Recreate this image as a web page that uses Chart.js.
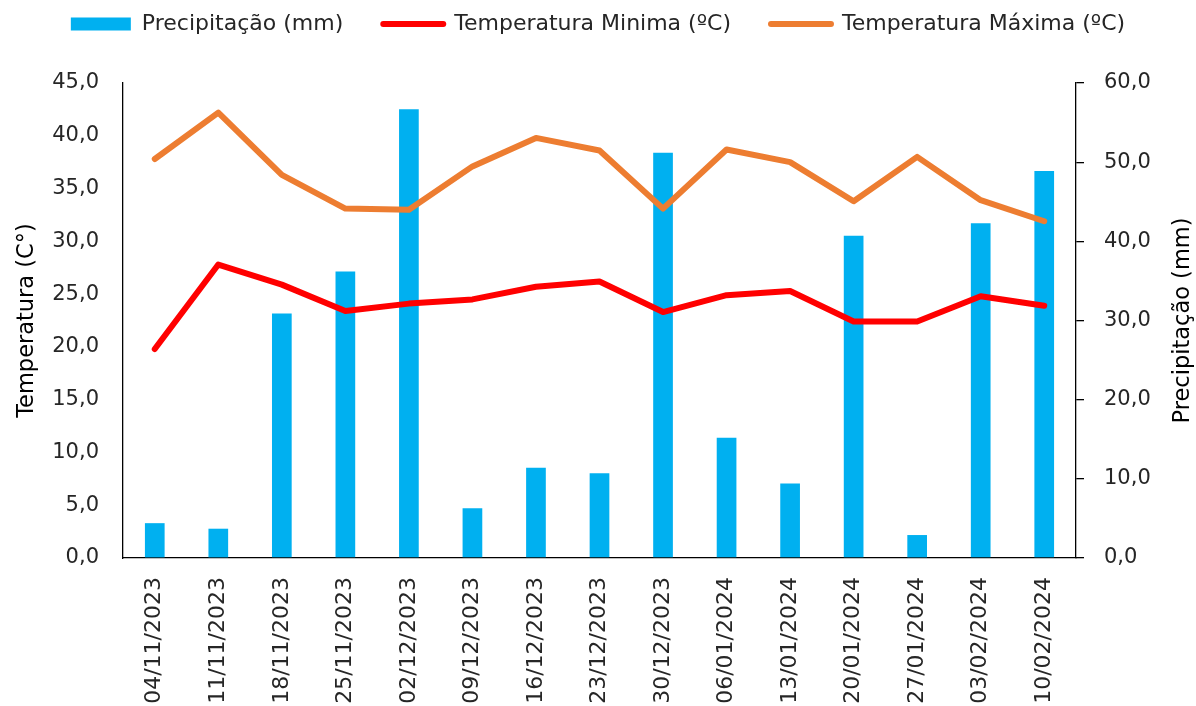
<!DOCTYPE html>
<html>
<head>
<meta charset="utf-8">
<script src="https://cdn.jsdelivr.net/npm/chart.js@4.4.1/dist/chart.umd.min.js"></script>
<style>
  body { margin: 0; background: #fff; }
  #wrap { width: 1196px; height: 706px; }
</style>
</head>
<body>
<div id="wrap"><canvas id="chart" width="1196" height="706"></canvas></div>
<script>
const dates = ['04/11/2023', '11/11/2023', '18/11/2023', '25/11/2023', '02/12/2023', '09/12/2023', '16/12/2023',
    '23/12/2023', '30/12/2023', '06/01/2024', '13/01/2024', '20/01/2024', '27/01/2024', '03/02/2024', '10/02/2024'];
const precipitacao = [4.4, 3.7, 30.9, 36.2, 56.7, 6.3, 11.4, 10.7, 51.2, 15.2, 9.4, 40.7, 2.9, 42.3, 48.9];
const tempMin = [19.8, 27.8, 25.9, 23.4, 24.1, 24.5, 25.7, 26.2, 23.3, 24.9, 25.3, 22.4, 22.4, 24.8, 23.9];
const tempMax = [37.8, 42.2, 36.3, 33.1, 33.0, 37.1, 39.8, 38.6, 33.1, 38.7, 37.5, 33.8, 38.0, 33.9, 31.9];
const tempTicks = [0, 45, 5];   // min, max, step
const precTicks = [0, 60, 10];
const rightTitle = 'Precipitação (mm)';

const FONT = "'DejaVu Sans', sans-serif";
const TXT = '#262626';
const fmt = v => v.toFixed(1).replace('.', ',');

// legend gets a fixed height so the plot starts where it does in the original
const legendFix = {
    id: 'legendFix',
    afterInit(chart) {
        const lg = chart.legend;
        const fit = lg.fit;
        lg.fit = function() {
            fit.call(this);
            this.height = 83;
        };
    },
    afterLayout(chart) {
        chart.legend.top = -27;
    }
};

// right axis title reads bottom-to-top in the original, chart.js turns it the other way
const rightTitlePlugin = {
    id: 'rightTitle',
    afterDraw(chart) {
        const ctx = chart.ctx;
        const area = chart.chartArea;
        ctx.save();
        ctx.translate(1183, (area.top + area.bottom) / 2);
        ctx.rotate(-Math.PI / 2);
        ctx.font = '22.5px ' + FONT;
        ctx.fillStyle = '#000';
        ctx.textAlign = 'center';
        ctx.textBaseline = 'middle';
        ctx.fillText(rightTitle, 0, 0);
        ctx.restore();
    }
};

new Chart(document.getElementById('chart'), {
    type: 'bar',
    data: {
        labels: dates,
        datasets: [{
            type: 'bar',
            label: 'Precipitação (mm)',
            data: precipitacao,
            backgroundColor: '#00B0F0',
            yAxisID: 'yPrec',
            barPercentage: 0.31,
            categoryPercentage: 1,
            order: 3
        }, {
            type: 'line',
            label: 'Temperatura Minima (ºC)',
            data: tempMin,
            borderColor: '#FF0000',
            backgroundColor: '#FF0000',
            borderWidth: 6,
            borderCapStyle: 'round',
            borderJoinStyle: 'round',
            pointRadius: 0,
            tension: 0,
            yAxisID: 'yTemp',
            order: 2
        }, {
            type: 'line',
            label: 'Temperatura Máxima (ºC)',
            data: tempMax,
            borderColor: '#ED7D31',
            backgroundColor: '#ED7D31',
            borderWidth: 6,
            borderCapStyle: 'round',
            borderJoinStyle: 'round',
            pointRadius: 0,
            tension: 0,
            yAxisID: 'yTemp',
            order: 1
        }]
    },
    options: {
        responsive: false,
        animation: false,
        devicePixelRatio: 1,
        layout: { padding: 0 },
        plugins: {
            tooltip: { enabled: false },
            legend: {
                position: 'top',
                labels: {
                    color: TXT,
                    font: { family: FONT, size: 22 },
                    padding: 40,
                    usePointStyle: true,
                    pointStyleWidth: 60,
                    boxHeight: 13,
                    sort: (a, b) => a.datasetIndex - b.datasetIndex,
                    generateLabels(chart) {
                        const items = Chart.defaults.plugins.legend.labels.generateLabels(chart);
                        items.forEach(it => {
                            const ds = chart.data.datasets[it.datasetIndex];
                            if (ds.type === 'line') {
                                it.pointStyle = 'line';
                                it.lineWidth = 6;
                                it.lineCap = 'round';
                                it.strokeStyle = ds.borderColor;
                            } else {
                                it.pointStyle = 'rect';
                                it.lineWidth = 0;
                            }
                        });
                        return items;
                    }
                }
            }
        },
        scales: {
            x: {
                grid: { display: false },
                border: { display: true, color: '#000', width: 1.3 },
                ticks: {
                    color: TXT,
                    font: { family: FONT, size: 22 },
                    minRotation: 90,
                    maxRotation: 90,
                    padding: 11
                },
                afterFit(scale) { scale.height = 706 - 558; }
            },
            yTemp: {
                position: 'left',
                min: tempTicks[0],
                max: tempTicks[1],
                grid: { display: false },
                border: { display: true, color: '#000', width: 1.3 },
                ticks: {
                    stepSize: tempTicks[2],
                    color: TXT,
                    font: { family: FONT, size: 21 },
                    padding: 16,
                    callback: v => fmt(v)
                },
                title: {
                    display: true,
                    text: 'Temperatura (C°)',
                    color: '#000',
                    font: { family: FONT, size: 22.5 },
                    padding: { top: 14, bottom: 0 }
                },
                afterFit(scale) { scale.width = 123; }
            },
            yPrec: {
                position: 'right',
                min: precTicks[0],
                max: precTicks[1],
                grid: { display: true, drawOnChartArea: false, drawTicks: true, tickLength: 8, color: '#000', lineWidth: 1.3 },
                border: { display: true, color: '#000', width: 1.3 },
                ticks: {
                    stepSize: precTicks[2],
                    color: TXT,
                    font: { family: FONT, size: 21 },
                    padding: 20,
                    callback: v => fmt(v)
                },
                afterFit(scale) { scale.width = 1196 - 1076; }
            }
        }
    },
    plugins: [legendFix, rightTitlePlugin]
});
</script>
</body>
</html>
